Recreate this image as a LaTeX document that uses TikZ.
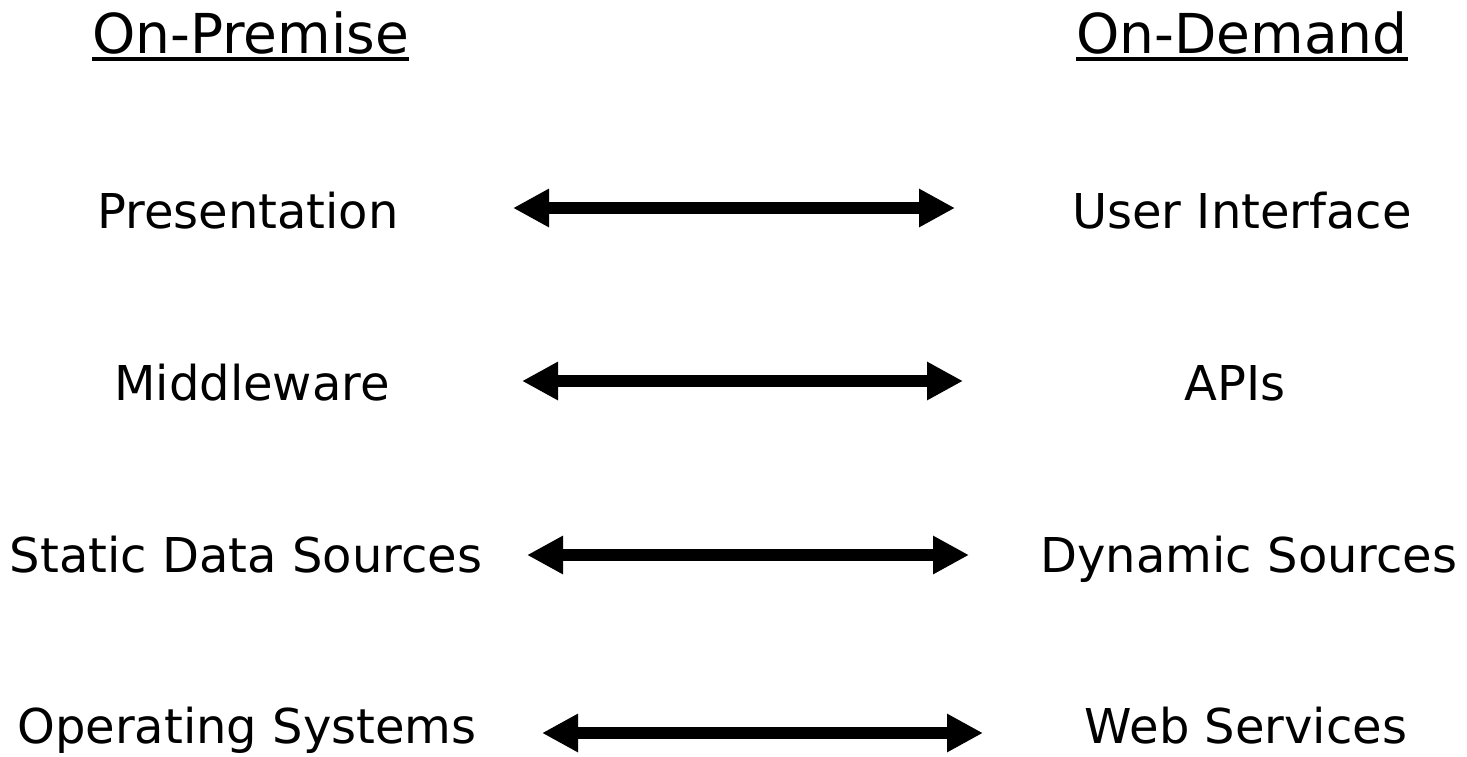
\documentclass[tikz,border=0pt]{standalone}
\usepackage{fontspec}
\setmainfont{DejaVu Sans}
\usetikzlibrary{arrows.meta}
\tikzset{
  label/.style={anchor=base, inner sep=0pt, font=\fontsize{48}{58}\selectfont},
  heading/.style={anchor=base, inner sep=0pt, font=\fontsize{55}{66}\selectfont},
  uline/.style={line width=4pt},
  link/.style={line width=12.7pt,
    {Triangle[length=36pt,width=36pt]}-{Triangle[length=36pt,width=36pt]}}
}
\begin{document}
\begin{tikzpicture}[x=1pt, y=-1pt]
\useasboundingbox (0,0) rectangle (1467,756);

% column headings
\node[heading] (hl) at (250.5,53) {On-Premise};
\node[heading] (hr) at (1242,53) {On-Demand};
\draw[uline] ([yshift=-6pt]hl.base west) -- ([yshift=-6pt]hl.base east);
\draw[uline] ([yshift=-6pt]hr.base west) -- ([yshift=-6pt]hr.base east);

% left column
\node[label] (l1) at (248,228) {Presentation};
\node[label] (l2) at (252,400) {Middleware};
\node[label] (l3) at (246,572) {Static Data Sources};
\node[label] (l4) at (247,743) {Operating Systems};

% right column
\node[label] (r1) at (1242,228) {User Interface};
\node[label] (r2) at (1235,400) {APIs};
\node[label] (r3) at (1249,572) {Dynamic Sources};
\node[label] (r4) at (1246,743) {Web Services};

% arrow end points
\coordinate (a1) at (513,208); \coordinate (b1) at (955,208);
\coordinate (a2) at (522,381); \coordinate (b2) at (963,381);
\coordinate (a3) at (527,555); \coordinate (b3) at (969,555);
\coordinate (a4) at (542,733); \coordinate (b4) at (983,733);

\draw[link] (a1) -- (b1);
\draw[link] (a2) -- (b2);
\draw[link] (a3) -- (b3);
\draw[link] (a4) -- (b4);
\end{tikzpicture}
\end{document}
